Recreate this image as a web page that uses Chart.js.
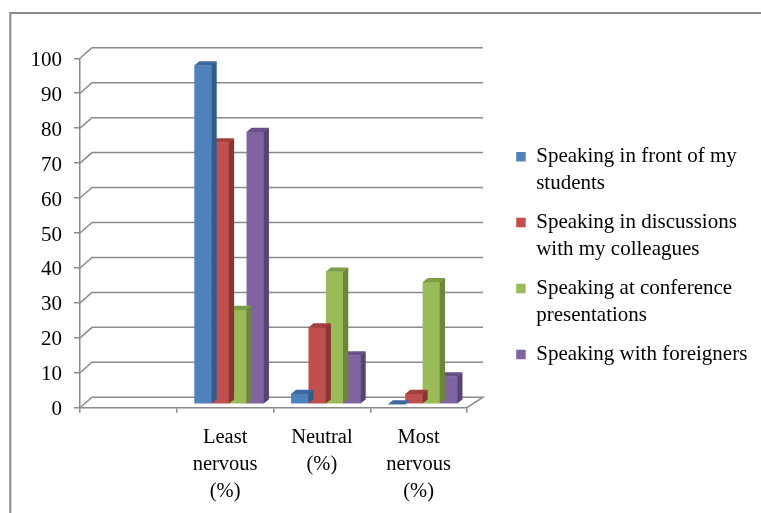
<!DOCTYPE html>
<html>
<head>
<meta charset="utf-8">
<script src="https://cdn.jsdelivr.net/npm/chart.js@4.4.1/dist/chart.umd.min.js"></script>
<style>
  html, body { margin: 0; padding: 0; background: #fff; }
  #wrap { width: 761px; height: 513px; }
</style>
</head>
<body>
<div id="wrap"><canvas id="chart" width="761" height="513"></canvas></div>
<script>
// Categories (the first slot of the 3D chart is left empty)
const categories = ['', ['Least', 'nervous', '(%)'], ['Neutral', '(%)'], ['Most', 'nervous', '(%)']];

// Series names as shown in the legend (wrapped lines)
const seriesNames = [
  ['Speaking in front of my', 'students'],
  ['Speaking in discussions', 'with my colleagues'],
  ['Speaking at conference', 'presentations'],
  ['Speaking with foreigners']
];

// Percentages for Least nervous, Neutral, Most nervous
const inFrontOfStudents = [97, 3, 0];
const discussionsWithColleagues = [75, 22, 3];
const conferencePresentations = [27, 38, 35];
const withForeigners = [78, 14, 8];

// Value axis ticks
const yTicks = [0, 10, 20, 30, 40, 50, 60, 70, 80, 90, 100];

// Styling
const FONT = 'Liberation Serif, "Times New Roman", serif';
const GRID = '#8a8a8a';
const frontColors = ['#4F81BD', '#C0504D', '#9BBB59', '#8064A2'];
const topColors   = ['#3D6A9F', '#A2403D', '#7F9C47', '#68508A'];
const sideColors  = ['#345A88', '#893532', '#6C863A', '#574377'];

const seriesValues = [inFrontOfStudents, discussionsWithColleagues, conferencePresentations, withForeigners];

const datasets = seriesValues.map((vals, i) => ({
  label: seriesNames[i],
  data: [null, ...vals],
  backgroundColor: frontColors[i],
  borderWidth: 0
}));

// Bars sit a little behind the front plane of the floor
const BAR_SHIFT = { x: 4, y: -3.5 };
const BAR_DEPTH = { x: 5, y: -4 };

const depth3d = {
  id: 'depth3d',
  beforeDraw(chart) {
    const ctx = chart.ctx;
    ctx.save();
    ctx.fillStyle = '#fff';
    ctx.fillRect(0, 0, chart.width, chart.height);
    ctx.strokeStyle = GRID;
    ctx.lineWidth = 2;
    ctx.strokeRect(10.3, 13, 900, 700);
    ctx.restore();
  },
  beforeDatasetsDraw(chart) {
    const { ctx, chartArea: a, scales: { y } } = chart;
    ctx.save();
    ctx.strokeStyle = GRID;
    ctx.lineWidth = 1.5;
    yTicks.forEach(v => {
      const py = y.getPixelForValue(v);
      ctx.beginPath();
      ctx.moveTo(a.left, py);
      ctx.lineTo(a.left + 12, py - 10.5);
      ctx.lineTo(a.right + 16, py - 10.5);
      if (v === 0) ctx.lineTo(a.right, py);
      ctx.stroke();
    });
    ctx.restore();
    ctx.save();
    ctx.translate(BAR_SHIFT.x, BAR_SHIFT.y);
  },
  afterDatasetDraw(chart, args) {
    const ctx = chart.ctx;
    const idx = args.index;
    const data = chart.data.datasets[idx].data;
    args.meta.data.forEach((bar, i) => {
      if (data[i] == null) return;
      const { x, y, base, width } = bar.getProps(['x', 'y', 'base', 'width'], true);
      const l = x - width / 2, r = x + width / 2;
      const dx = BAR_DEPTH.x, dy = BAR_DEPTH.y;
      ctx.fillStyle = topColors[idx];
      ctx.beginPath();
      ctx.moveTo(l, y + 0.3);
      ctx.lineTo(r, y + 0.3);
      ctx.lineTo(r + dx, y + dy);
      ctx.lineTo(l + dx, y + dy);
      ctx.closePath();
      ctx.fill();
      if (base - y > 0.5) {
        ctx.fillStyle = sideColors[idx];
        ctx.beginPath();
        ctx.moveTo(r - 0.3, y);
        ctx.lineTo(r + dx, y + dy);
        ctx.lineTo(r + dx, base + dy);
        ctx.lineTo(r - 0.3, base);
        ctx.closePath();
        ctx.fill();
      }
    });
  },
  afterDatasetsDraw(chart) {
    chart.ctx.restore();
  }
};

// Pin the legend to the right-hand column
const legendPlacement = {
  id: 'legendPlacement',
  beforeDraw(chart) {
    const lg = chart.legend;
    if (!lg) return;
    const w = lg.width, h = lg.height;
    lg.left = 503.5; lg.right = lg.left + w;
    lg.top = 133.5; lg.bottom = lg.top + h;
  }
};

new Chart(document.getElementById('chart'), {
  type: 'bar',
  data: { labels: categories, datasets },
  plugins: [depth3d, legendPlacement],
  options: {
    responsive: false,
    animation: false,
    devicePixelRatio: 1,
    layout: { padding: { top: 58.3, right: 294, bottom: 0, left: 0 } },
    datasets: { bar: { categoryPercentage: 0.72, barPercentage: 1, clip: false } },
    plugins: {
      tooltip: { enabled: false },
      legend: {
        position: 'chartArea',
        align: 'start',
        labels: {
          boxWidth: 9.5,
          boxHeight: 9.5,
          padding: 12.7,
          color: '#000',
          font: { family: FONT, size: 21, lineHeight: 26.6 / 21 }
        }
      }
    },
    scales: {
      x: {
        grid: { offset: true, drawOnChartArea: false, drawTicks: true, tickLength: 5, color: GRID, lineWidth: 1.5 },
        border: { display: true, color: GRID, width: 1.5 },
        ticks: {
          color: '#000', padding: 12, maxRotation: 0, autoSkip: false,
          font: { family: FONT, size: 20.5, lineHeight: 26.6 / 20.5 }
        },
        afterFit(scale) { scale.height = 513 - 407.7; }
      },
      y: {
        min: 0, max: 100,
        grid: { drawOnChartArea: false, drawTicks: true, tickLength: 6, color: GRID, lineWidth: 1.5 },
        border: { display: true, color: GRID, width: 1.5 },
        ticks: {
          stepSize: 10, color: '#000', padding: 12, labelOffset: 2,
          font: { family: FONT, size: 21 }
        },
        afterFit(scale) { scale.width = 80; }
      }
    }
  }
});
</script>
</body>
</html>
